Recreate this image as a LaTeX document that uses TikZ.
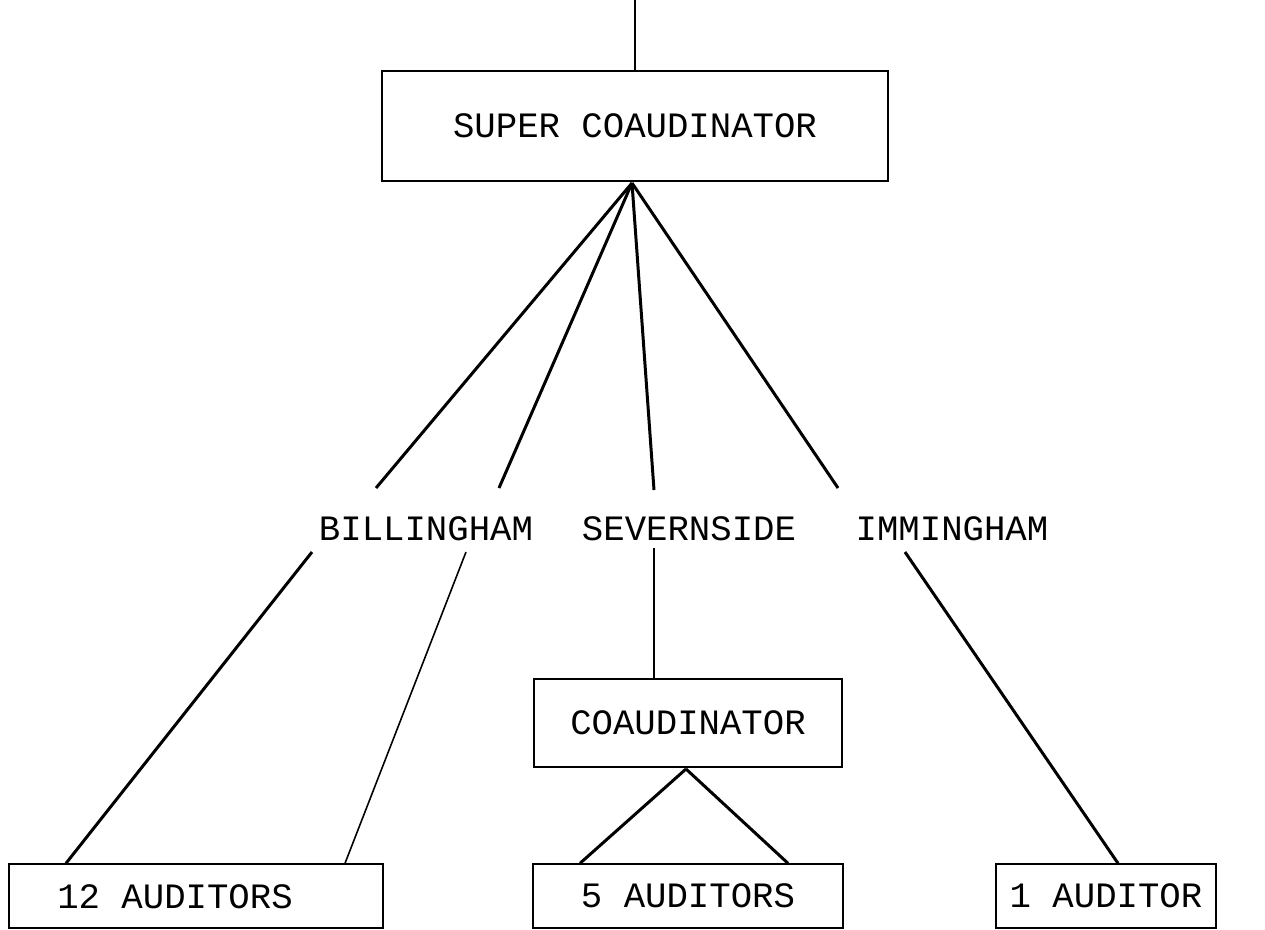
\documentclass[tikz,border=0pt]{standalone}
\usepackage{fontspec}
\setmonofont{Liberation Mono}
\begin{document}
\begin{tikzpicture}[x=0.02cm,y=-0.02cm,
  box/.style={draw,line width=0.8pt,rectangle,inner sep=0pt},
  lbl/.style={font=\ttfamily\fontsize{20.3}{24}\selectfont,inner sep=0pt},
  thick line/.style={line width=1.7pt},
  thin line/.style={line width=0.9pt}]
\useasboundingbox (0,0) rectangle (1265,930);
% boxes
\node[box,minimum width=10.12cm,minimum height=2.2cm,lbl] (super) at (635,126) {SUPER COAUDINATOR};
\node[box,minimum width=6.16cm,minimum height=1.76cm,lbl] (coaud) at (688,723) {COAUDINATOR};
\node[box,minimum width=7.48cm,minimum height=1.28cm] (a12) at (196,896) {};
\node[lbl] (a12t) at (175,897) {12 AUDITORS};
\node[box,minimum width=6.2cm,minimum height=1.28cm,lbl] (a5) at (688,896) {5 AUDITORS};
\node[box,minimum width=4.4cm,minimum height=1.28cm,lbl] (a1) at (1106,896) {1 AUDITOR};
% labels
\node[lbl] (bill) at (426,529) {BILLINGHAM};
\node[lbl] (sev) at (689,529) {SEVERNSIDE};
\node[lbl] (imm) at (952,529) {IMMINGHAM};
% connector points
\coordinate (top) at (635,0);
\coordinate (hub) at (632,183);
\coordinate (b1) at (376,488);
\coordinate (b2) at (499,488);
\coordinate (s1) at (654,490);
\coordinate (i1) at (838,488);
\coordinate (b3) at (312,552);
\coordinate (b4) at (466,552);
\coordinate (s2) at (654,548);
\coordinate (i2) at (905,552);
\coordinate (c0) at (686,769);
% connectors
\draw[thick line] (top) -- (super.north);
\draw[thick line] (hub) -- (b1);
\draw[thick line] (hub) -- (b2);
\draw[thick line] (hub) -- (s1);
\draw[thick line] (hub) -- (i1);
\draw[thick line] (b3) -- (a12.north west -| 66,0);
\draw[thin line] (b4) -- (a12.north west -| 345,0);
\draw[thin line] (s2) -- (coaud.north west -| 654,0);
\draw[thick line] (i2) -- (a1.north west -| 1118,0);
\draw[thick line] (c0) -- (a5.north west -| 580,0);
\draw[thick line] (c0) -- (a5.north west -| 788,0);
\end{tikzpicture}
\end{document}
